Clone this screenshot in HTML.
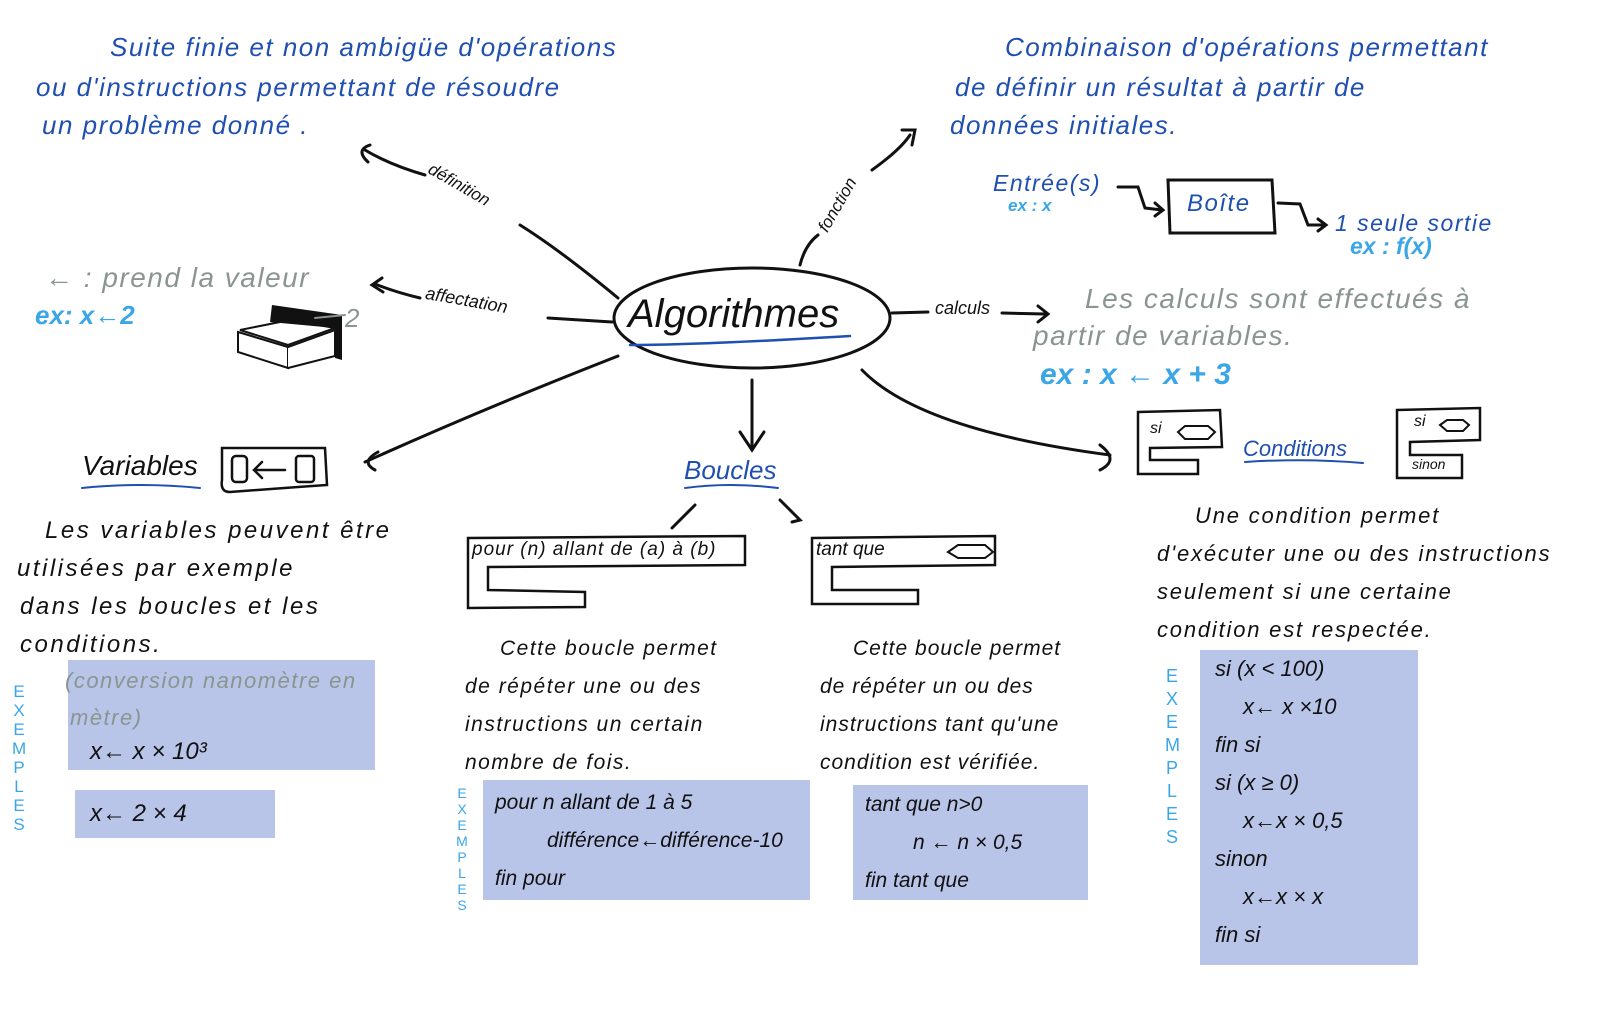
<!DOCTYPE html>
<html><head><meta charset="utf-8"><style>
body{margin:0;width:1600px;height:1016px;background:#fff;position:relative;overflow:hidden;font-family:"Liberation Sans",sans-serif;}
.t{position:absolute;white-space:nowrap;font-style:italic;}
.b{color:#1f4fb0;font-size:26px;letter-spacing:1.5px}
.g{color:#8a9590;font-size:28px;letter-spacing:1.5px}
.lb{color:#3aa6e6;font-weight:bold}
.k{color:#111;font-size:22px}
.sh{position:absolute;background:#b8c4e8;}
.ex{position:absolute;color:#3aa6e6;font-size:17px;line-height:19px;width:14px;text-align:center}
</style></head><body>
<svg width="1600" height="1016" style="position:absolute;left:0;top:0" fill="none" stroke="#111" stroke-width="3" stroke-linecap="round">
<ellipse cx="752" cy="318" rx="138" ry="50"/>
<path d="M630 345 Q700 345 850 336" stroke="#1f4fb0" stroke-width="2.5"/>
<path d="M618 298 Q560 250 520 225"/><path d="M425 175 Q390 165 365 150"/><path d="M370 145 Q355 150 368 162"/>
<path d="M548 318 L612 322"/><path d="M420 298 Q395 292 375 284"/><path d="M382 278 L372 285 L383 292"/>
<path d="M618 356 Q480 410 365 462"/><path d="M378 452 Q360 462 375 470"/>
<path d="M752 380 L752 450"/><path d="M740 432 L752 450 L764 432"/>
<path d="M695 505 L672 528"/><path d="M780 500 L800 520 L792 522"/>
<path d="M862 370 Q920 430 1110 455"/><path d="M1100 445 Q1120 460 1100 470"/>
<path d="M892 313 L928 312"/><path d="M1002 313 L1045 314"/><path d="M1038 306 L1048 314 L1038 322"/>
<path d="M800 265 Q805 245 818 235"/><path d="M872 170 Q900 150 910 135"/><path d="M902 130 L915 130 L912 145"/>
<path d="M1168 180 L1272 180 L1275 233 L1170 233 Z"/>
<path d="M1118 187 L1138 187 L1145 208 L1162 210"/><path d="M1155 203 L1163 210 L1155 216"/>
<path d="M1278 203 L1300 204 L1308 225 L1325 225"/><path d="M1318 219 L1326 225 L1318 231"/>
<path d="M222 448 L325 448 L327 485 L298 487 L230 492 Q220 492 222 480 Z" stroke-width="2.5"/>
<rect x="232" y="456" width="15" height="26" rx="4" stroke-width="2.5"/><rect x="296" y="456" width="18" height="26" rx="3" stroke-width="2.5"/>
<path d="M255 470 L285 470 M262 462 L254 470 L262 478" stroke-width="2.5"/>
<path d="M240 330 L290 320 L335 328 L288 345 Z" fill="#fff" stroke-width="2"/>
<path d="M270 322 L272 305 L342 315 L342 360 L335 358 L335 328 Z" fill="#111" stroke="none"/>
<path d="M238 332 L288 347 L288 368 L238 352 Z" fill="#fff" stroke-width="2"/>
<path d="M288 347 L335 330 L335 356 L288 368" fill="#fff" stroke-width="2"/>
<path d="M315 318 L345 315" stroke="#8a9590" stroke-width="2"/>
<path d="M468 538 L745 536 L745 565 L488 567 L488 590 L585 592 L585 607 L468 608 Z" stroke-width="2.5"/>
<path d="M812 538 L995 536 L995 565 L832 567 L832 590 L918 590 L918 604 L812 604 Z" stroke-width="2.5"/>
<path d="M948 552 L958 545 L985 545 L993 552 L985 558 L958 558 Z" stroke-width="2"/>
<path d="M1138 412 L1220 410 L1222 447 L1150 448 L1150 460 L1198 460 L1198 474 L1138 474 Z" stroke-width="2.5"/>
<path d="M1178 432 L1185 426 L1208 426 L1215 432 L1208 439 L1185 439 Z" stroke-width="2"/>
<path d="M1397 410 L1480 408 L1480 440 L1410 442 L1410 455 L1462 455 L1462 478 L1397 478 Z" stroke-width="2.5"/>
<path d="M1440 425 L1447 420 L1463 420 L1469 425 L1463 431 L1447 431 Z" stroke-width="2"/>
<path d="M82 488 Q140 482 200 488" stroke="#1f4fb0" stroke-width="2"/>
<path d="M685 488 Q730 482 778 488" stroke="#1f4fb0" stroke-width="2"/>
<path d="M1245 462 Q1305 458 1363 463" stroke="#1f4fb0" stroke-width="2"/>
</svg>

<div class="t b" style="left:110px;top:32px">Suite finie et non ambigüe d'opérations</div>
<div class="t b" style="left:36px;top:72px">ou d'instructions permettant de résoudre</div>
<div class="t b" style="left:42px;top:110px">un problème donné .</div>
<div class="t b" style="left:1005px;top:32px">Combinaison d'opérations permettant</div>
<div class="t b" style="left:955px;top:72px">de définir un résultat à partir de</div>
<div class="t b" style="left:950px;top:110px">données initiales.</div>

<div class="t" style="left:628px;top:292px;font-size:40px;color:#111">Algorithmes</div>
<div class="t k" style="left:425px;top:175px;font-size:17px;transform:rotate(30deg)">définition</div>
<div class="t k" style="left:425px;top:290px;font-size:18px;transform:rotate(10deg)">affectation</div>
<div class="t k" style="left:935px;top:298px;font-size:18px">calculs</div>
<div class="t k" style="left:808px;top:195px;font-size:17px;transform:rotate(-60deg)">fonction</div>

<div class="t g" style="left:45px;top:262px">← : prend la valeur</div>
<div class="t lb" style="left:35px;top:300px;font-size:26px">ex: x←2</div>
<div class="t g" style="left:345px;top:303px;font-size:26px">2</div>

<div class="t b" style="left:993px;top:170px;font-size:23px">Entrée(s)</div>
<div class="t lb" style="left:1008px;top:196px;font-size:17px">ex : x</div>
<div class="t b" style="left:1187px;top:190px;font-size:24px">Boîte</div>
<div class="t b" style="left:1335px;top:210px;font-size:23px">1 seule sortie</div>
<div class="t lb" style="left:1350px;top:233px;font-size:23px">ex : f(x)</div>

<div class="t g" style="left:1085px;top:283px">Les calculs sont effectués à</div>
<div class="t g" style="left:1033px;top:320px">partir de variables.</div>
<div class="t lb" style="left:1040px;top:358px;font-size:30px">ex : x ← x + 3</div>

<div class="t" style="left:82px;top:450px;font-size:28px;color:#111">Variables</div>
<div class="t" style="left:684px;top:455px;font-size:26px;color:#1f4fb0">Boucles</div>
<div class="t" style="left:1243px;top:436px;font-size:22px;color:#1f4fb0">Conditions</div>
<div class="t k" style="left:1150px;top:420px;font-size:16px">si</div>
<div class="t k" style="left:1414px;top:413px;font-size:16px">si</div>
<div class="t k" style="left:1412px;top:456px;font-size:14px">sinon</div>
<div class="t k" style="left:472px;top:539px;font-size:19px;letter-spacing:1px">pour (n) allant de (a) à (b)</div>
<div class="t k" style="left:816px;top:539px;font-size:19px">tant que</div>

<div class="t k" style="left:45px;top:512px;line-height:38px;font-size:24px;letter-spacing:2.5px">Les variables peuvent être<br><span style="margin-left:-28px">utilisées par exemple</span><br><span style="margin-left:-25px">dans les boucles et les</span><br><span style="margin-left:-25px">conditions.</span></div>
<div class="t k" style="left:500px;top:630px;line-height:38px;font-size:21px;letter-spacing:1.5px">Cette boucle permet<br><span style="margin-left:-35px">de répéter une ou des</span><br><span style="margin-left:-35px">instructions un certain</span><br><span style="margin-left:-35px">nombre de fois.</span></div>
<div class="t k" style="left:853px;top:630px;line-height:38px;font-size:21px;letter-spacing:1px">Cette boucle permet<br><span style="margin-left:-33px">de répéter un ou des</span><br><span style="margin-left:-33px">instructions tant qu'une</span><br><span style="margin-left:-33px">condition est vérifiée.</span></div>
<div class="t k" style="left:1195px;top:497px;line-height:38px;font-size:22px;letter-spacing:1.8px">Une condition permet<br><span style="margin-left:-38px">d'exécuter une ou des instructions</span><br><span style="margin-left:-38px">seulement si une certaine</span><br><span style="margin-left:-38px">condition est respectée.</span></div>

<div class="sh" style="left:68px;top:660px;width:307px;height:110px"></div>
<div class="sh" style="left:75px;top:790px;width:200px;height:48px"></div>
<div class="sh" style="left:483px;top:780px;width:327px;height:120px"></div>
<div class="sh" style="left:853px;top:785px;width:235px;height:115px"></div>
<div class="sh" style="left:1200px;top:650px;width:218px;height:315px"></div>

<div class="t g" style="left:65px;top:668px;font-size:22px">(conversion nanomètre en</div>
<div class="t g" style="left:70px;top:705px;font-size:22px">mètre)</div>
<div class="t k" style="left:90px;top:738px;font-size:24px">x← x × 10³</div>
<div class="t k" style="left:90px;top:800px;font-size:24px">x← 2 × 4</div>
<div class="t k" style="left:495px;top:784px;line-height:38px;font-size:21px">pour n allant de 1 à 5<br><span style="margin-left:52px">différence←différence-10</span><br>fin pour</div>
<div class="t k" style="left:865px;top:786px;line-height:38px;font-size:21px">tant que n&gt;0<br><span style="margin-left:48px">n ← n × 0,5</span><br>fin tant que</div>
<div class="t k" style="left:1215px;top:650px;line-height:38px;font-size:22px">si (x &lt; 100)<br><span style="margin-left:28px">x← x ×10</span><br>fin si<br>si (x ≥ 0)<br><span style="margin-left:28px">x←x × 0,5</span><br>sinon<br><span style="margin-left:28px">x←x × x</span><br>fin si</div>

<div class="ex" style="left:12px;top:682px">E<br>X<br>E<br>M<br>P<br>L<br>E<br>S</div>
<div class="ex" style="left:455px;top:785px;font-size:14px;line-height:16px">E<br>X<br>E<br>M<br>P<br>L<br>E<br>S</div>
<div class="ex" style="left:1165px;top:665px;font-size:18px;line-height:23px">E<br>X<br>E<br>M<br>P<br>L<br>E<br>S</div>
</body></html>
